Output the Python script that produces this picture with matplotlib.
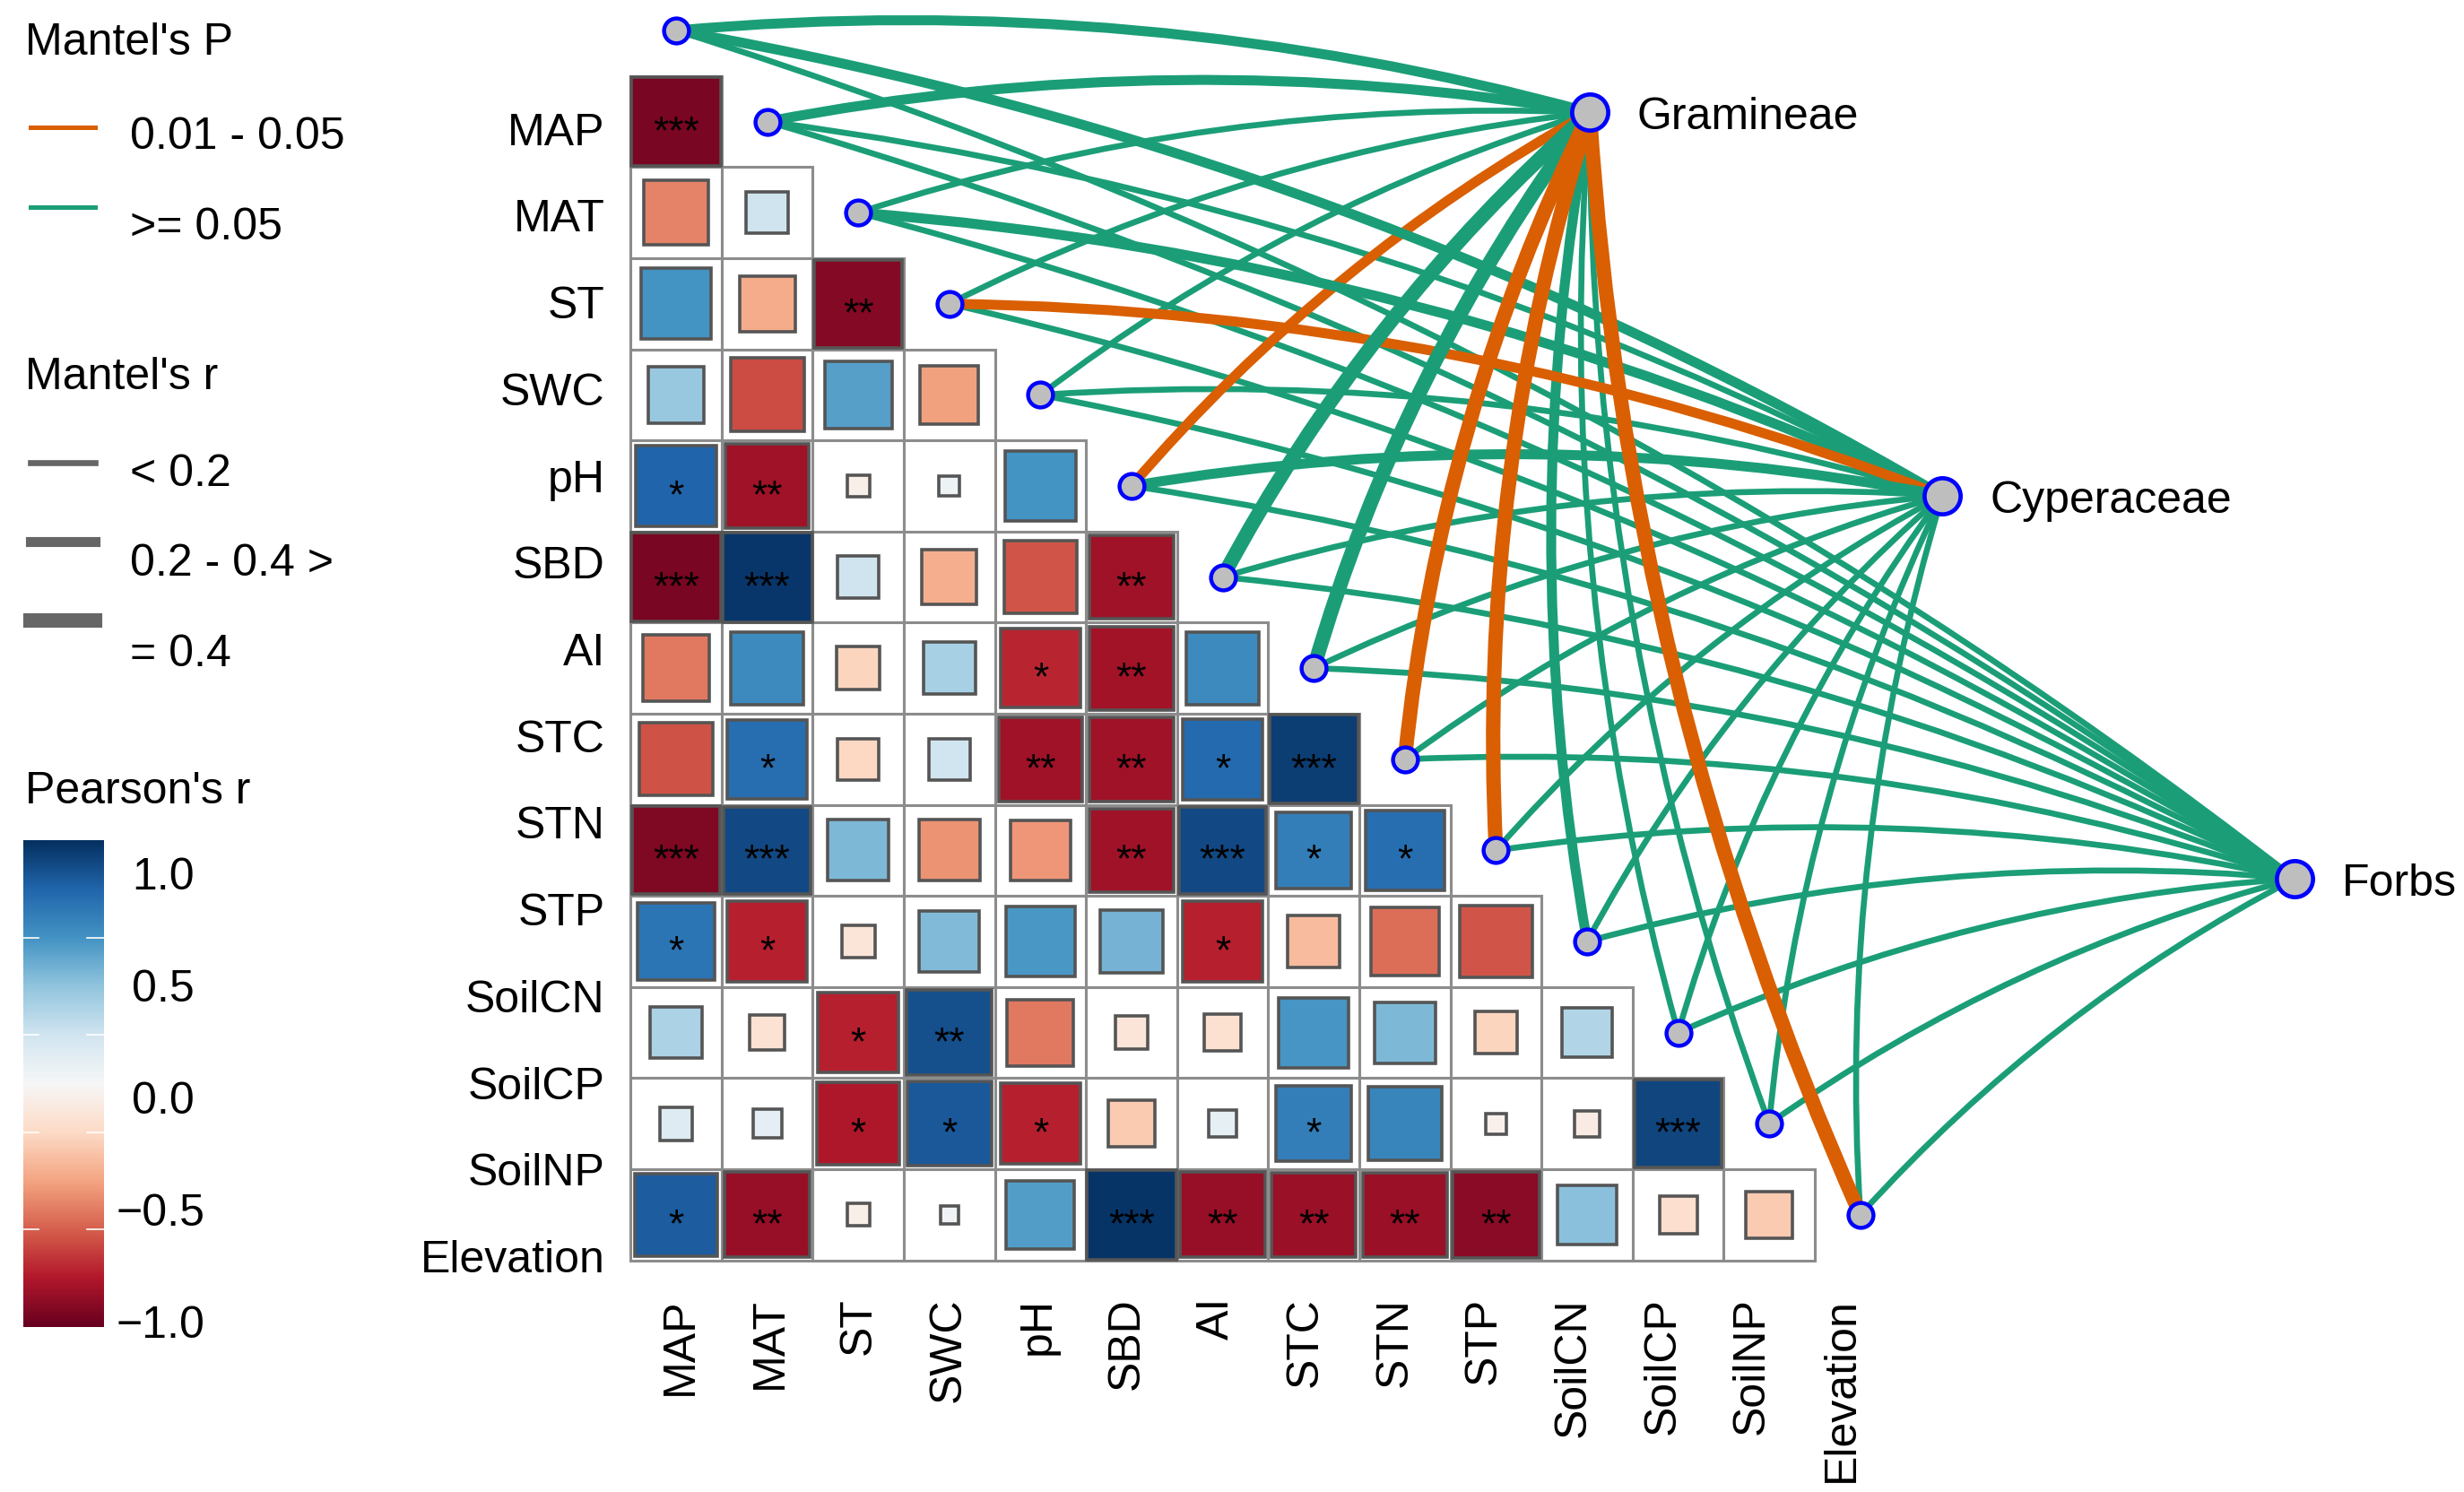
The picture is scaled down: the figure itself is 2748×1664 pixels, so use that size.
import numpy as np
import matplotlib
matplotlib.use('Agg')
import matplotlib.pyplot as plt
from matplotlib.patches import Rectangle, FancyArrowPatch
from matplotlib.lines import Line2D

plt.rcParams['font.family'] = ['Liberation Sans', 'DejaVu Sans']

# ---- data ----
variables = ['MAP', 'MAT', 'ST', 'SWC', 'pH', 'SBD', 'AI', 'STC', 'STN', 'STP',
             'SoilCN', 'SoilCP', 'SoilNP', 'Elevation']
species = ['Gramineae', 'Cyperaceae', 'Forbs']

# Pearson's r, lower triangle (row n has n+1 cells)
corr_rows = [
    [-0.95],
    [-0.50, 0.21],
    [0.60, -0.37, -0.92],
    [0.38, -0.65, 0.55, -0.41],
    [0.80, -0.85, -0.06, 0.05, 0.60],
    [-0.95, 0.97, 0.21, -0.36, -0.63, -0.85],
    [-0.53, 0.64, -0.22, 0.33, -0.76, -0.84, 0.64],
    [-0.64, 0.76, -0.21, 0.20, -0.85, -0.85, 0.78, 0.95],
    [-0.93, 0.90, 0.45, -0.45, -0.44, -0.85, 0.90, 0.69, 0.76],
    [0.73, -0.78, -0.13, 0.44, 0.58, 0.47, -0.78, -0.32, -0.56, -0.63],
    [0.32, -0.15, -0.78, 0.88, -0.53, -0.13, -0.16, 0.59, 0.45, -0.22, 0.30],
    [0.13, 0.10, -0.81, 0.85, -0.78, -0.26, 0.09, 0.69, 0.66, -0.05, -0.08, 0.92],
    [0.83, -0.87, -0.06, 0.04, 0.56, 0.98, -0.87, -0.86, -0.86, -0.90, 0.42, -0.17, -0.26],
]
star_rows = [
    ['***'],
    ['', ''],
    ['', '', '**'],
    ['', '', '', ''],
    ['*', '**', '', '', ''],
    ['***', '***', '', '', '', '**'],
    ['', '', '', '', '*', '**', ''],
    ['', '*', '', '', '**', '**', '*', '***'],
    ['***', '***', '', '', '', '**', '***', '*', '*'],
    ['*', '*', '', '', '', '', '*', '', '', ''],
    ['', '', '*', '**', '', '', '', '', '', '', ''],
    ['', '', '*', '*', '*', '', '', '*', '', '', '', '***'],
    ['*', '**', '', '', '', '***', '**', '**', '**', '**', '', '', ''],
]

# Mantel test classes, one per variable
P_SIG, P_NS = '0.01 - 0.05', '>= 0.05'
R_LO, R_MID, R_HI = '< 0.2', '0.2 - 0.4 >', '= 0.4'
mantel_p = {
    'Gramineae': [P_NS, P_NS, P_NS, P_NS, P_NS, P_SIG, P_NS, P_NS, P_SIG, P_SIG, P_NS, P_NS, P_NS, P_SIG],
    'Cyperaceae': [P_NS, P_NS, P_NS, P_SIG, P_NS, P_NS, P_NS, P_NS, P_NS, P_NS, P_NS, P_NS, P_NS, P_NS],
    'Forbs': [P_NS] * 14,
}
mantel_r = {
    'Gramineae': [R_MID, R_MID, R_LO, R_LO, R_LO, R_MID, R_HI, R_HI, R_HI, R_HI, R_MID, R_LO, R_LO, R_HI],
    'Cyperaceae': [R_MID, R_LO, R_MID, R_MID, R_LO, R_MID, R_LO, R_LO, R_LO, R_LO, R_LO, R_LO, R_LO, R_LO],
    'Forbs': [R_LO] * 14,
}
cbar_ticks = [1.0, 0.5, 0.0, -0.5, -1.0]

# ---- styles ----
p_colors = {P_SIG: '#D95F02', P_NS: '#1B9E77'}
r_widths = {R_LO: 2.4, R_MID: 4.0, R_HI: 5.8}
fs = 18

W, H, DPI = 2748, 1665, 200
cell = 101.6          # pixels per matrix cell
x0px, y0px = 754, 35  # pixel position of the first variable node

fig = plt.figure(figsize=(W / DPI, H / DPI), dpi=DPI)
ax = fig.add_axes([0, 0, 1, 1])
ax.set_xlim(-x0px / cell, (W - x0px) / cell)
ax.set_ylim((H - y0px) / cell, -y0px / cell)
ax.axis('off')

fx = lambda px: px / W
fy = lambda py: 1 - py / H
half_cap = 18 / cell   # half cap height in cell units

cmap = plt.get_cmap('RdBu')
norm = plt.Normalize(-1, 1)

# correlation matrix
for n, (vals, st) in enumerate(zip(corr_rows, star_rows)):
    i = n + 1
    for j, (r, s) in enumerate(zip(vals, st)):
        ax.add_patch(Rectangle((j - 0.5, i - 0.5), 1, 1, facecolor='white',
                               edgecolor='#8c8c8c', lw=1.1, zorder=1))
        side = np.sqrt(abs(r))
        ax.add_patch(Rectangle((j - side / 2, i - side / 2), side, side,
                               facecolor=cmap(norm(r)), edgecolor='#555555',
                               lw=1.3, zorder=2))
        if s:
            ax.text(j, i + 0.23, s, ha='center', va='baseline', fontsize=16, zorder=3)

# species nodes
sp_x = [10.03 + 3.87 * k for k in range(len(species))]
sp_y = [0.90 + 4.205 * k for k in range(len(species))]

edges = []
for k, name in enumerate(species):
    for v in range(len(variables)):
        edges.append((r_widths[mantel_r[name][v]], p_colors[mantel_p[name][v]], k, v))
edges.sort(key=lambda e: e[0])
for lw, col, k, v in edges:
    ax.add_patch(FancyArrowPatch((sp_x[k], sp_y[k]), (v, v), arrowstyle='-',
                                 connectionstyle='arc3,rad=0.09', color=col, lw=lw,
                                 shrinkA=0, shrinkB=0, capstyle='butt', zorder=4))

idx = np.arange(len(variables))
ax.plot(idx, idx, 'o', ms=10, mfc='#BEBEBE', mec='#0000FF', mew=1.6, zorder=6)
ax.plot(sp_x, sp_y, 'o', ms=14.5, mfc='#BEBEBE', mec='#0000FF', mew=1.7, zorder=6)
for k, name in enumerate(species):
    ax.text(sp_x[k] + 0.52, sp_y[k] + half_cap, name, ha='left', va='baseline', fontsize=fs)

# axis labels
for k, name in enumerate(variables):
    ax.text(-0.78, 1.07 + 0.952 * k + half_cap, name, ha='right', va='baseline', fontsize=fs)
    ax.text(0.05 + 0.98 * k, 13.9, name, ha='center', va='top', rotation=90, fontsize=fs)

# legend: Mantel's P
fig.text(fx(28), fy(43 + 18), "Mantel's P", fontsize=fs, ha='left', va='baseline')
for lab, yl, yt in [(P_SIG, 143, 148), (P_NS, 232, 249)]:
    fig.add_artist(Line2D([fx(34), fx(106)], [fy(yl), fy(yl)], color=p_colors[lab], lw=1.8))
    fig.text(fx(145), fy(yt + 18), lab, fontsize=fs, ha='left', va='baseline')

# legend: Mantel's r
fig.text(fx(28), fy(416 + 18), "Mantel's r", fontsize=fs, ha='left', va='baseline')
for lab, yl, yt in [(R_LO, 517, 524), (R_MID, 605, 624), (R_HI, 693, 725)]:
    fig.add_artist(Line2D([fx(34), fx(106)], [fy(yl), fy(yl)], color='#666666', lw=r_widths[lab]))
    fig.text(fx(145), fy(yt + 18), lab, fontsize=fs, ha='left', va='baseline')

# legend: Pearson's r colour bar
fig.text(fx(28), fy(878 + 18), "Pearson's r", fontsize=fs, ha='left', va='baseline')
cb_top, cb_bot, cb_l, cb_r = 938, 1481, 26, 116
cax = fig.add_axes([fx(cb_l), fy(cb_bot), (cb_r - cb_l) / W, (cb_bot - cb_top) / H])
cax.imshow(np.linspace(-1, 1, 256).reshape(-1, 1), cmap=cmap, norm=norm, aspect='auto',
           origin='lower', extent=[0, 1, -1, 1])
for t in [0.6, 0.2, -0.2, -0.6]:
    cax.plot([0, 0.19], [t, t], color='white', lw=0.6)
    cax.plot([0.79, 1], [t, t], color='white', lw=0.6)
cax.set_xlim(0, 1)
cax.set_ylim(-1, 1)
cax.axis('off')
for v in cbar_ticks:
    py = 1224 - 250 * v
    lab = f'{v:.1f}'.replace('-', '\u2212')
    fig.text(fx(147 if v >= 0 else 130), fy(py + 18), lab, fontsize=fs, ha='left', va='baseline')

fig.savefig('out.png', dpi=DPI)
